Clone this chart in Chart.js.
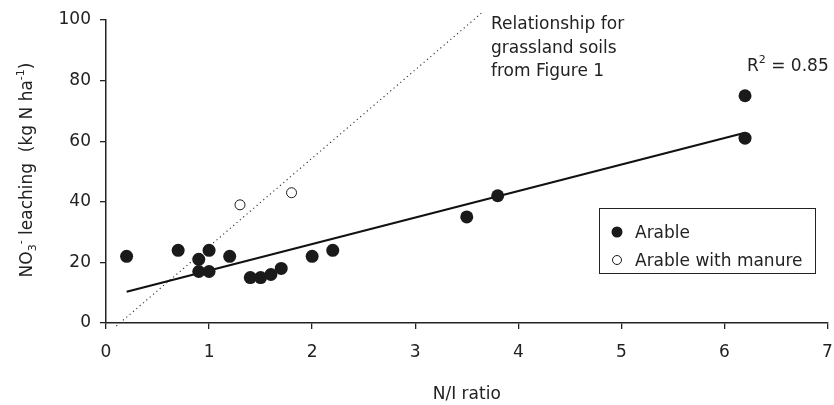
<!DOCTYPE html>
<html>
<head>
<meta charset="utf-8">
<script src="https://cdn.jsdelivr.net/npm/chart.js@4.4.0/dist/chart.umd.min.js"></script>
<style>
  html, body { margin: 0; padding: 0; background: #fff; }
  #wrap { width: 834px; height: 405px; }
</style>
</head>
<body>
<div id="wrap"><canvas id="leachChart"></canvas></div>
<script>
// N/I ratio vs NO3 leaching
const arableX = [0.2, 0.7, 0.9, 0.9, 1.0, 1.0, 1.2, 1.4, 1.5, 1.6, 1.7, 2.0, 2.2, 3.5, 3.8, 6.2, 6.2];
const arableY = [22, 24, 21, 17, 24, 17, 22, 15, 15, 16, 18, 22, 24, 35, 42, 75, 61];
const manureX = [1.3, 1.8];
const manureY = [39, 43];
// fitted line for arable soils
const fitX = [0.2, 6.2];
const fitY = [10.3, 62.8];
// grassland relationship (Figure 1)
const grassX = [0.1, 3.65];
const grassY = [-1, 102.5];
const xTicks = [0, 1, 2, 3, 4, 5, 6, 7];
const yTicks = [0, 20, 40, 60, 80, 100];
const seriesNames = ['Arable', 'Arable with manure'];
const noteLines = ['Relationship for', 'grassland soils', 'from Figure 1'];
const rSquared = '0.85';

const FONT = '"DejaVu Sans", sans-serif';
const INK = '#222';

const toPoints = (xs, ys) => xs.map((x, i) => ({ x: x, y: ys[i] }));

const extras = {
    id: 'extras',
    afterDraw(chart) {
        const { ctx } = chart;
        ctx.save();
        ctx.fillStyle = INK;
        ctx.strokeStyle = INK;
        ctx.textBaseline = 'alphabetic';
        ctx.textAlign = 'left';

        // note for the dotted line
        ctx.font = '17px ' + FONT;
        noteLines.forEach((t, i) => ctx.fillText(t, 491, 29 + i * 23.5));

        // R squared
        let rx = 747;
        ctx.fillText('R', rx, 71);
        rx += ctx.measureText('R').width;
        ctx.font = '11px ' + FONT;
        ctx.fillText('2', rx, 63);
        rx += ctx.measureText('2').width;
        ctx.font = '17px ' + FONT;
        ctx.fillText(' = ' + rSquared, rx, 71);

        // legend box
        ctx.lineWidth = 1;
        ctx.strokeRect(599.5, 208.5, 216, 65);
        const ds = chart.data.datasets;
        ctx.beginPath();
        ctx.arc(617, 232, 5.5, 0, Math.PI * 2);
        ctx.fillStyle = ds[0].backgroundColor;
        ctx.fill();
        ctx.beginPath();
        ctx.arc(617, 260, 4.5, 0, Math.PI * 2);
        ctx.fillStyle = ds[1].backgroundColor;
        ctx.fill();
        ctx.lineWidth = 1;
        ctx.strokeStyle = ds[1].borderColor;
        ctx.stroke();
        ctx.fillStyle = INK;
        ctx.font = '17px ' + FONT;
        ctx.fillText(ds[0].label, 635, 238);
        ctx.fillText(ds[1].label, 635, 266);

        // y axis title with sub/superscripts
        const parts = [['NO', 0], ['3', 1], ['-', -1], [' leaching  (kg N ha', 0], ['-1', -1], [')', 0]];
        const fontFor = p => (p[1] === 0 ? '17px ' : '11px ') + FONT;
        let total = 0;
        parts.forEach(p => { ctx.font = fontFor(p); total += ctx.measureText(p[0]).width; });
        ctx.translate(32, 170);
        ctx.rotate(-Math.PI / 2);
        let px = -total / 2;
        parts.forEach(p => {
            ctx.font = fontFor(p);
            const dy = p[1] === 1 ? 4 : (p[1] === -1 ? -8 : 0);
            ctx.fillText(p[0], px, dy);
            px += ctx.measureText(p[0]).width;
        });
        ctx.restore();
    }
};

const ctx = document.getElementById('leachChart').getContext('2d');

const leachChart = new Chart(ctx, {
    type: 'scatter',
    plugins: [extras],
    data: {
        datasets: [
            {
                label: seriesNames[0],
                data: toPoints(arableX, arableY),
                backgroundColor: '#1a1a1a',
                borderColor: '#1a1a1a',
                pointRadius: 6.5,
                pointBorderWidth: 0
            },
            {
                label: seriesNames[1],
                data: toPoints(manureX, manureY),
                backgroundColor: '#fff',
                borderColor: '#1a1a1a',
                pointRadius: 5,
                pointBorderWidth: 1
            },
            {
                type: 'line',
                label: 'fit',
                data: toPoints(fitX, fitY),
                borderColor: '#111',
                borderWidth: 2.2,
                pointRadius: 0,
                fill: false
            },
            {
                type: 'line',
                label: 'grassland',
                data: toPoints(grassX, grassY),
                borderColor: '#333',
                borderWidth: 1.1,
                borderDash: [1.2, 3.2],
                pointRadius: 0,
                fill: false,
                clip: false
            }
        ]
    },
    options: {
        responsive: true,
        maintainAspectRatio: false,
        animation: false,
        layout: {
            padding: { top: 20, right: 5, bottom: 0, left: 0 }
        },
        plugins: {
            legend: { display: false },
            tooltip: { enabled: false }
        },
        scales: {
            x: {
                type: 'linear',
                min: xTicks[0],
                max: xTicks[xTicks.length - 1],
                afterBuildTicks: s => { s.ticks = xTicks.map(v => ({ value: v })); },
                afterFit: s => { s.height = 82; s.paddingLeft = 0; s.paddingRight = 0; },
                grid: { drawOnChartArea: false, drawTicks: true, tickLength: 6, color: INK, lineWidth: 1.3 },
                border: { display: true, color: INK, width: 1.5 },
                ticks: { color: INK, padding: 13, font: { family: FONT, size: 17 } },
                title: {
                    display: true,
                    text: 'N/I ratio',
                    color: INK,
                    padding: { top: 0, bottom: 0 },
                    font: { family: FONT, size: 17 }
                }
            },
            y: {
                min: yTicks[0],
                max: yTicks[yTicks.length - 1],
                afterBuildTicks: s => { s.ticks = yTicks.map(v => ({ value: v })); },
                afterFit: s => { s.width = 106; s.paddingTop = 0; s.paddingBottom = 0; },
                grid: { drawOnChartArea: false, drawTicks: true, tickLength: 6, color: INK, lineWidth: 1.3 },
                border: { display: true, color: INK, width: 1.5 },
                ticks: { color: INK, padding: 9, font: { family: FONT, size: 17 } }
            }
        }
    }
});
</script>
</body>
</html>
